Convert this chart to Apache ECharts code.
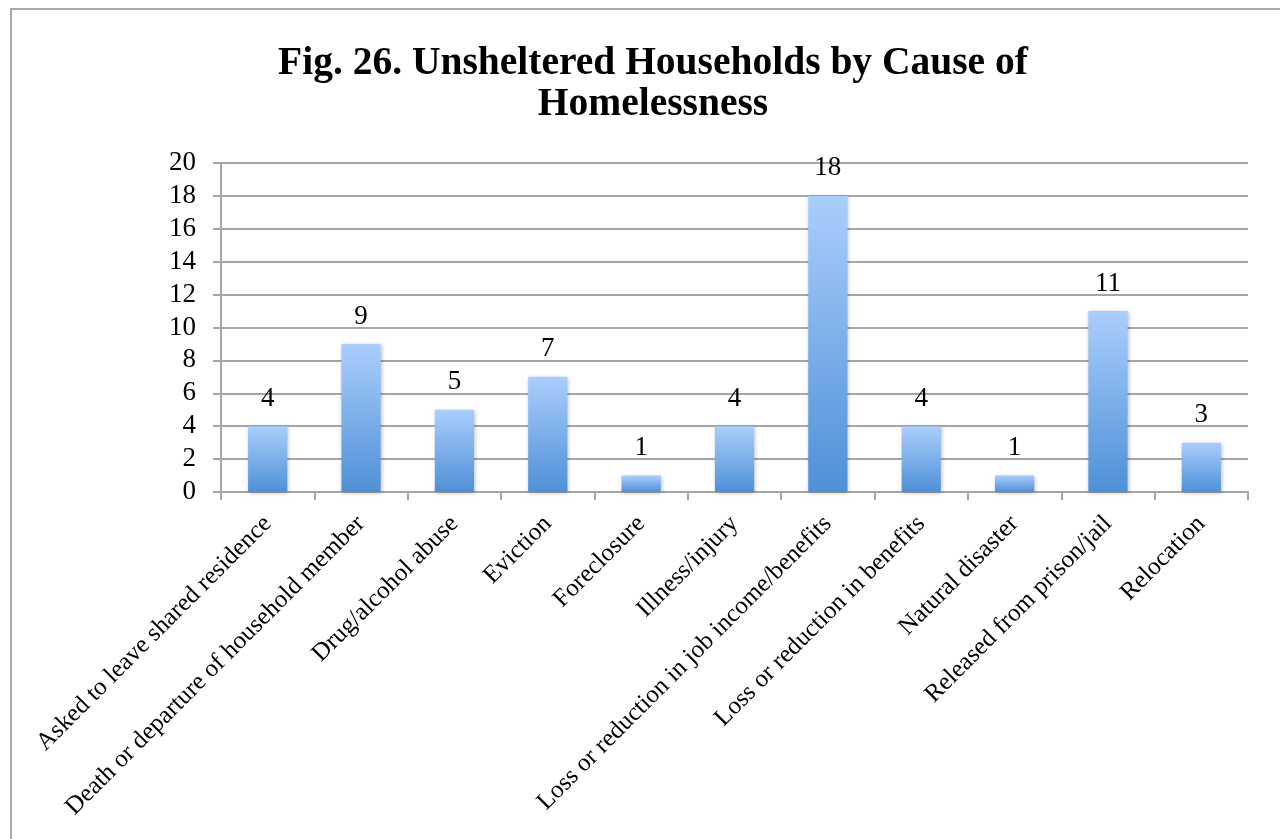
<!DOCTYPE html>
<html>
<head>
<meta charset="utf-8">
<script src="https://cdn.jsdelivr.net/npm/echarts@6/dist/echarts.min.js"></script>
<style>
  html, body { margin: 0; padding: 0; background: #fff; }
  #frame { position: absolute; left: 10px; top: 8px; width: 1300px; height: 900px; border: 2px solid #a9a9a9; box-sizing: border-box; }
  #chart { position: absolute; left: 0; top: 0; width: 1280px; height: 839px; }
</style>
</head>
<body>
<div id="frame"></div>
<div id="chart"></div>
<script>
const titleText = 'Fig. 26. Unsheltered Households by Cause of\nHomelessness';
const categories = [
  'Asked to leave shared residence',
  'Death or departure of household member',
  'Drug/alcohol abuse',
  'Eviction',
  'Foreclosure',
  'Illness/injury',
  'Loss or reduction in job income/benefits',
  'Loss or reduction in benefits',
  'Natural disaster',
  'Released from prison/jail',
  'Relocation'
];
const values = [4, 9, 5, 7, 1, 4, 18, 4, 1, 11, 3];
const yMin = 0, yMax = 20, yStep = 2;

const chart = echarts.init(document.getElementById('chart'), null, { renderer: 'canvas' });
const serif = '"Liberation Serif", "DejaVu Serif", serif';
chart.setOption({
  backgroundColor: 'transparent',
  animation: false,
  title: {
    text: titleText,
    left: 648,
    textAlign: 'center',
    top: 38,
    textStyle: { fontFamily: serif, fontWeight: 'bold', fontSize: 39.5, lineHeight: 41, color: '#000' }
  },
  grid: { left: 221, right: 32, top: 163, bottom: 347, containLabel: false },
  xAxis: {
    type: 'category',
    data: categories,
    axisLine: { lineStyle: { color: '#a6a6a6', width: 2 } },
    axisTick: { show: true, length: 8, lineStyle: { color: '#a6a6a6', width: 2 } },
    axisLabel: { rotate: 45, interval: 0, margin: 28, fontFamily: serif, fontSize: 25, color: '#000' }
  },
  yAxis: {
    type: 'value',
    min: yMin, max: yMax, interval: yStep,
    axisLine: { show: true, lineStyle: { color: '#a6a6a6', width: 2 } },
    axisTick: { show: true, length: 8, lineStyle: { color: '#a6a6a6', width: 2 } },
    splitLine: { show: true, lineStyle: { color: '#a6a6a6', width: 2 } },
    axisLabel: { margin: 25, fontFamily: serif, fontSize: 27, color: '#000' }
  },
  series: [{
    type: 'bar',
    data: values,
    barWidth: '42%',
    itemStyle: {
      color: new echarts.graphic.LinearGradient(0, 0, 0, 1, [
        { offset: 0, color: '#aacefc' },
        { offset: 1, color: '#4e90d7' }
      ]),
      shadowColor: 'rgba(0,0,0,0.25)',
      shadowBlur: 4,
      shadowOffsetX: 1,
      shadowOffsetY: 1
    },
    label: { show: true, position: 'top', distance: 14, fontFamily: serif, fontSize: 27, color: '#000' }
  }]
});
</script>
</body>
</html>
